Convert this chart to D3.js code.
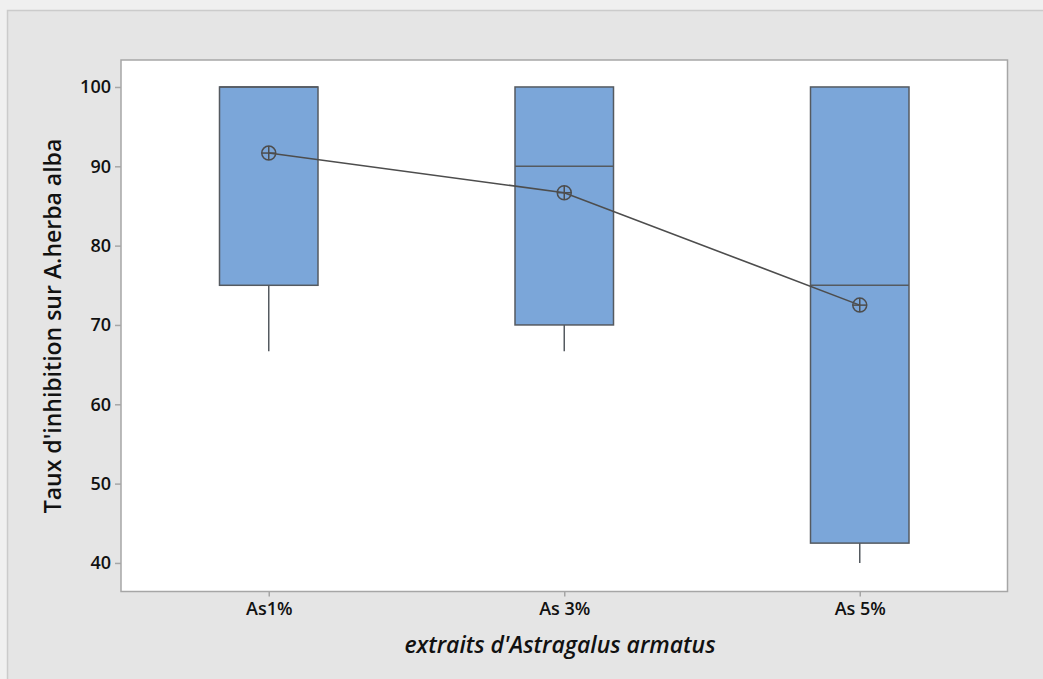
<!DOCTYPE html>
<html>
<head>
<meta charset="utf-8">
<script src="https://cdnjs.cloudflare.com/ajax/libs/d3/7.8.5/d3.min.js"></script>
<style>
  body { margin: 0; background: #f0f0f0; }
  svg { display: block; font-family: "Open Sans", "Noto Sans", sans-serif; }
</style>
</head>
<body>
<div id="chart"></div>
<script>
// values
var categories = ["As1%", "As 3%", "As 5%"];
var q1 = [75, 70, 42.5];
var medians = [100, 90, 75];
var q3 = [100, 100, 100];
var whiskerLow = [66.67, 66.67, 40];
var whiskerHigh = [100, 100, 100];
var means = [91.67, 86.67, 72.5];
var yTicks = [40, 50, 60, 70, 80, 90, 100];

var W = 1043, H = 679;
var margin = {top: 60, right: 35.5, bottom: 87.5, left: 121},
    width = W - margin.left - margin.right,
    height = H - margin.top - margin.bottom;

var svg = d3.select("#chart").append("svg")
    .attr("width", W)
    .attr("height", H);

// outer grey panel
svg.append("rect")
    .attr("x", 7.5).attr("y", 10.5)
    .attr("width", W).attr("height", H)
    .attr("fill", "#e5e5e5")
    .attr("stroke", "#cbcbcb")
    .attr("stroke-width", 1.5);

var g = svg.append("g")
    .attr("transform", "translate(" + margin.left + "," + margin.top + ")");

var x = d3.scalePoint()
    .domain(categories)
    .range([0, width])
    .padding(0.5);

var y = d3.scaleLinear()
    .domain([36.4, 103.4])
    .range([height, 0]);

var boxW = x.step() / 3;

// plot area
g.append("rect")
    .attr("width", width)
    .attr("height", height)
    .attr("fill", "#ffffff")
    .attr("stroke", "#a6a6a6")
    .attr("stroke-width", 1.5);

var rows = categories.map(function(c, i) {
    return {cat: c, q1: q1[i], med: medians[i], q3: q3[i], lo: whiskerLow[i], hi: whiskerHigh[i], mean: means[i]};
});

var box = g.selectAll(".box")
    .data(rows)
    .enter().append("g")
    .attr("class", "box");

// whiskers
box.append("line")
    .attr("x1", function(d) { return x(d.cat); })
    .attr("x2", function(d) { return x(d.cat); })
    .attr("y1", function(d) { return y(d.q1); })
    .attr("y2", function(d) { return y(d.lo); })
    .attr("stroke", "#555a60")
    .attr("stroke-width", 1.5);

box.append("line")
    .attr("x1", function(d) { return x(d.cat); })
    .attr("x2", function(d) { return x(d.cat); })
    .attr("y1", function(d) { return y(d.q3); })
    .attr("y2", function(d) { return y(d.hi); })
    .attr("stroke", "#555a60")
    .attr("stroke-width", 1.5);

box.append("rect")
    .attr("x", function(d) { return x(d.cat) - boxW / 2; })
    .attr("y", function(d) { return y(d.q3); })
    .attr("width", boxW)
    .attr("height", function(d) { return y(d.q1) - y(d.q3); })
    .attr("fill", "#7ba6d9")
    .attr("stroke", "#555a60")
    .attr("stroke-width", 1.5);

box.append("line")
    .attr("x1", function(d) { return x(d.cat) - boxW / 2; })
    .attr("x2", function(d) { return x(d.cat) + boxW / 2; })
    .attr("y1", function(d) { return y(d.med); })
    .attr("y2", function(d) { return y(d.med); })
    .attr("stroke", "#555a60")
    .attr("stroke-width", 1.5);

// mean connect line
var line = d3.line()
    .x(function(d) { return x(d.cat); })
    .y(function(d) { return y(d.mean); });

g.append("path")
    .datum(rows)
    .attr("d", line)
    .attr("fill", "none")
    .attr("stroke", "#4d4d4d")
    .attr("stroke-width", 1.6);

// mean symbols (circle with cross)
var r = 7;
var sym = g.selectAll(".mean")
    .data(rows)
    .enter().append("g")
    .attr("class", "mean")
    .attr("transform", function(d) { return "translate(" + x(d.cat) + "," + y(d.mean) + ")"; })
    .attr("stroke", "#4d4d4d")
    .attr("stroke-width", 1.5)
    .attr("fill", "none");
sym.append("circle").attr("r", r);
sym.append("line").attr("x1", -r).attr("x2", r);
sym.append("line").attr("y1", -r).attr("y2", r);

// axes
var yAxis = g.append("g")
    .call(d3.axisLeft(y).tickValues(yTicks).tickSize(6).tickPadding(4));
var xAxis = g.append("g")
    .attr("transform", "translate(0," + height + ")")
    .call(d3.axisBottom(x).tickSize(5).tickPadding(6));

[yAxis, xAxis].forEach(function(a) {
    a.select(".domain").remove();
    a.selectAll(".tick line").attr("stroke", "#a6a6a6").attr("stroke-width", 1.5);
    a.selectAll(".tick text")
        .attr("fill", "#111111")
        .style("font-size", "18px")
        .style("font-weight", 600)
        .style("font-family", "'Open Sans', sans-serif");
});

// titles
svg.append("text")
    .attr("transform", "translate(61," + (margin.top + 266) + ") rotate(-90)")
    .attr("text-anchor", "middle")
    .style("font-size", "23px")
    .style("font-weight", 600)
    .attr("fill", "#111111")
    .text("Taux d'inhibition sur A.herba alba");

svg.append("text")
    .attr("x", 560)
    .attr("y", 653)
    .attr("text-anchor", "middle")
    .style("font-size", "23px")
    .style("font-style", "italic")
    .style("font-weight", 600)
    .attr("fill", "#111111")
    .text("extraits d'Astragalus armatus");
</script>
</body>
</html>
